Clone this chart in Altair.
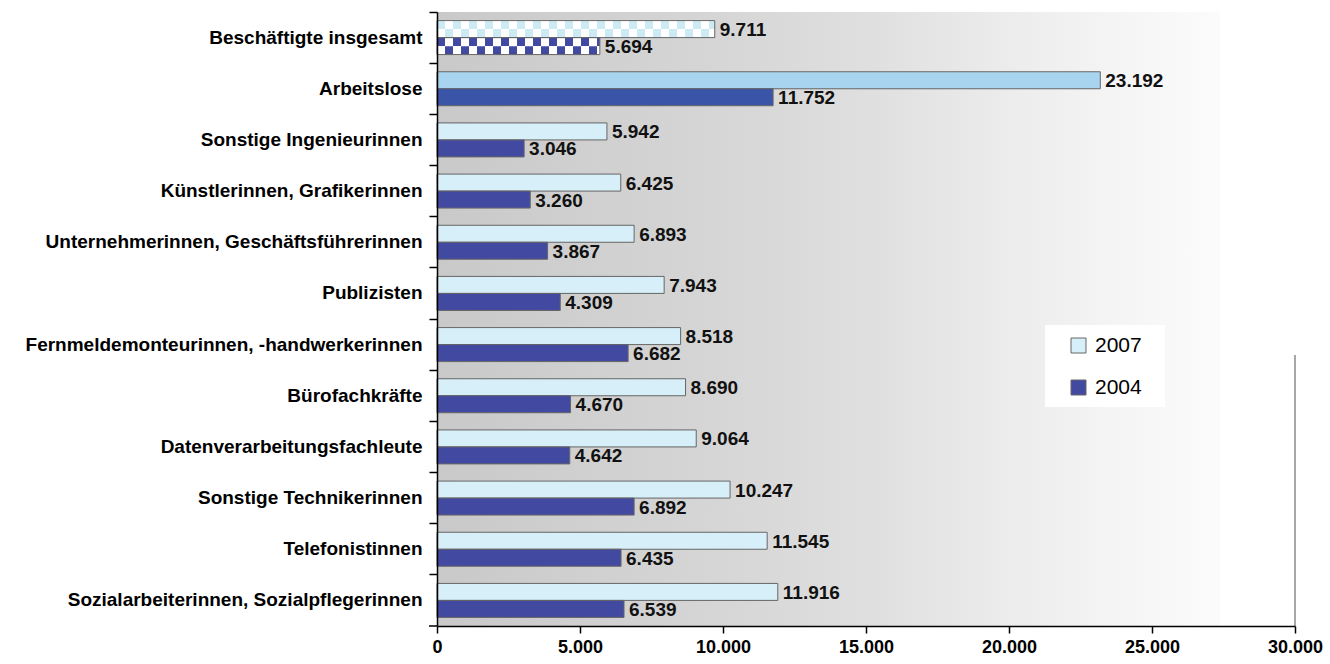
import altair as alt
import pandas as pd

categories = [
    "Beschäftigte insgesamt",
    "Arbeitslose\u00a0",
    "Sonstige Ingenieurinnen",
    "Künstlerinnen, Grafikerinnen",
    "Unternehmerinnen, Geschäftsführerinnen",
    "Publizisten",
    "Fernmeldemonteurinnen, -handwerkerinnen",
    "Bürofachkräfte",
    "Datenverarbeitungsfachleute",
    "Sonstige Technikerinnen",
    "Telefonistinnen",
    "Sozialarbeiterinnen, Sozialpflegerinnen",
]
series = ["2007", "2004"]
v2007 = [9711, 23192, 5942, 6425, 6893, 7943, 8518, 8690, 9064, 10247, 11545, 11916]
v2004 = [5694, 11752, 3046, 3260, 3867, 4309, 6682, 4670, 4642, 6892, 6435, 6539]
x_ticks = [0, 5000, 10000, 15000, 20000, 25000, 30000]

rows = []
for c, a, b in zip(categories, v2007, v2004):
    rows.append({"cat": c, "series": "2007", "value": a})
    rows.append({"cat": c, "series": "2004", "value": b})
df = pd.DataFrame(rows)

total_cat = categories[0]
unemp_cat = categories[1]
df_main = df[~df["cat"].isin([total_cat, unemp_cat])]
df_unemp = df[df["cat"] == unemp_cat]
df_total = df[df["cat"] == total_cat]

chk_rows = []
for s, v in [("2007", v2007[0]), ("2004", v2004[0])]:
    chk_rows.append({"cat": total_cat, "sub": s + "a", "series": s, "zero": 0, "value": v})
    chk_rows.append({"cat": total_cat, "sub": s + "b", "series": s, "zero": 0, "value": v})
df_chk = pd.DataFrame(chk_rows)

W, H = 858, 614
FONT = "Liberation Sans"
C07, C04 = "#d7eff8", "#4249a0"
A07, A04 = "#a8d4f0", "#3a55a8"
EDGE = "#666666"

ysc = alt.Scale(domain=categories, paddingInner=0, paddingOuter=0)
yax = alt.Axis(
    title=None, bandPosition=0, zindex=1,
    labelFont=FONT, labelFontSize=19, labelFontWeight="bold", labelColor="#000",
    labelPadding=7, labelLimit=600, tickSize=8, tickColor="#000", tickWidth=1.5,
    domainColor="#000", domainWidth=1.5,
)
xsc = alt.Scale(domain=[0, 30000], nice=False, zero=True)
xax = alt.Axis(
    title=None, values=x_ticks, grid=False, zindex=1,
    labelExpr="replace(format(datum.value, ','), ',', '.')",
    labelFont=FONT, labelFontSize=18, labelFontWeight="bold", labelColor="#000",
    labelPadding=5, labelFlush=False, labelOverlap=False,
    tickSize=7, tickColor="#000", tickWidth=1.5, domainColor="#000", domainWidth=1.5,
)
off2 = alt.Scale(type="band", domain=series, paddingInner=0, paddingOuter=0.505)
off_txt = alt.Scale(type="point", domain=["q0", "2007", "2004", "q1"], padding=0)
off4 = alt.Scale(type="point", domain=["p0", "2007a", "2007b", "2004a", "2004b", "p1"], padding=0.5)

Y = alt.Y("cat:N", sort=categories, scale=ysc, axis=yax)
X = alt.X("value:Q", scale=xsc, axis=xax)
YO2 = alt.YOffset("series:N", scale=off2)
YO4 = alt.YOffset("sub:N", scale=off4)
YOT = alt.YOffset("series:N", scale=off_txt)

one = pd.DataFrame({"k": [0]})

bg = alt.Chart(one).mark_rect(
    fill=alt.Gradient(
        gradient="linear",
        stops=[
            alt.GradientStop(color="#c9c9c9", offset=0),
            alt.GradientStop(color="#d6d6d6", offset=0.365),
            alt.GradientStop(color="#dfdfdf", offset=0.55),
            alt.GradientStop(color="#ececec", offset=0.73),
            alt.GradientStop(color="#f7f7f7", offset=0.91),
            alt.GradientStop(color="#fbfbfb", offset=1),
        ],
        x1=0, x2=1, y1=0, y2=0,
    )
).encode(x=alt.value(0), x2=alt.value(783), y=alt.value(0), y2=alt.value(H))

main = alt.Chart(df_main).mark_bar(stroke=EDGE, strokeWidth=1).encode(
    y=Y, x=X, yOffset=YO2,
    color=alt.Color(
        "series:N", sort=series,
        scale=alt.Scale(domain=series, range=[C07, C04]),
        legend=alt.Legend(
            title=None, orient="none", legendX=631, legendY=323,
            symbolType="square", symbolSize=225, symbolStrokeColor=EDGE,
            symbolStrokeWidth=1, labelFont=FONT, labelFontSize=21,
            labelColor="#000", rowPadding=20, padding=0, labelOffset=6,
        ),
    ),
)

unemp = alt.Chart(df_unemp).mark_bar(stroke=EDGE, strokeWidth=1).encode(
    y=Y, x=X, yOffset=YO2,
    fill=alt.condition("datum.series == '2007'", alt.value(A07), alt.value(A04)),
)

total_base = alt.Chart(df_total).mark_bar(fill="white", strokeWidth=0).encode(
    y=Y, x=X, yOffset=YO2,
)

def checker(sub, color, dash_off):
    return alt.Chart(df_chk[df_chk["sub"] == sub]).mark_rule(
        color=color, strokeWidth=8.5, strokeDash=[8, 8], strokeDashOffset=dash_off, strokeCap="butt"
    ).encode(y=Y, yOffset=YO4, x=alt.X("zero:Q", scale=xsc, axis=xax), x2="value:Q")

chk_layers = [
    checker("2007a", "#cdeaf4", 0),
    checker("2007b", "#cdeaf4", 8),
    checker("2004a", C04, 0),
    checker("2004b", C04, 8),
]

total_edge = alt.Chart(df_total).mark_bar(fill="white", fillOpacity=0, stroke=EDGE, strokeWidth=1).encode(
    y=Y, x=X, yOffset=YO2,
)

labels = alt.Chart(df).transform_calculate(
    lbl="replace(format(datum.value, ','), ',', '.')"
).mark_text(
    align="left", baseline="middle", dx=5, dy=1, font=FONT, fontSize=19, fontWeight="bold", color="#111"
).encode(y=Y, x=X, yOffset=YOT, text="lbl:N")

right_rule = alt.Chart(one).mark_rule(color="#8a8a8a", strokeWidth=1.5).encode(
    x=alt.value(W), y=alt.value(343), y2=alt.value(H)
)

bottom_tick = alt.Chart(one).mark_rule(color="#000", strokeWidth=1.5).encode(
    x=alt.value(-8), x2=alt.value(0), y=alt.value(H)
)

legend_box = alt.Chart(one).mark_rect(fill="white").encode(
    x=alt.value(608), x2=alt.value(728), y=alt.value(313), y2=alt.value(395)
)

chart = alt.layer(
    bg, legend_box, main, unemp, total_base, *chk_layers, total_edge, labels, right_rule, bottom_tick
).resolve_scale(yOffset="independent").properties(
    width=W, height=H,
    autosize=alt.AutoSizeParams(type="none"),
    padding={"left": 437, "top": 12, "right": 35, "bottom": 38},
    background="white",
).configure_view(stroke=None)

chart.save("out.html", embed_options={"renderer": "svg", "actions": False})
